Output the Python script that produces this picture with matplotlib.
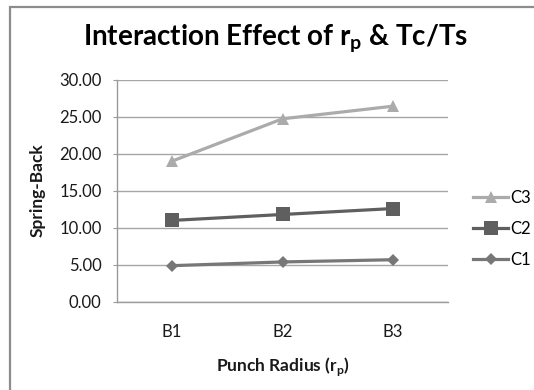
import matplotlib
matplotlib.use("Agg")
import matplotlib.pyplot as plt
from matplotlib.patches import Rectangle

# ---- data ----
categories = ["B1", "B2", "B3"]
c1 = [4.9, 5.4, 5.7]
c2 = [11.0, 11.8, 12.6]
c3 = [19.0, 24.7, 26.4]
series_names = ["C1", "C2", "C3"]
yticks = [0, 5, 10, 15, 20, 25, 30]

plt.rcParams['font.family'] = ['Lato', 'DejaVu Sans']
plt.rcParams['mathtext.fontset'] = 'custom'
plt.rcParams['mathtext.rm'] = 'Lato'
plt.rcParams['mathtext.bf'] = 'Lato:bold'

W, H = 534, 390
fig = plt.figure(figsize=(W / 100, H / 100), dpi=100)
fig.patch.set_facecolor('white')

# outer chart border (left/top visible)
top = 1 - 6.5 / H
fig.patches.append(Rectangle((9.5 / W, -0.1), 1.2, top + 0.1,
                             transform=fig.transFigure, fill=False,
                             edgecolor='#8c8c8c', linewidth=1.6))

ax = fig.add_axes([117 / W, 1 - 302 / H, 331 / W, (302 - 79.5) / H])
x = list(range(len(categories)))

styles = {
    "C1": dict(color='#777777', marker='D', markersize=5.8),
    "C2": dict(color='#5f5f5f', marker='s', markersize=9.6),
    "C3": dict(color='#ababab', marker='^', markersize=9.2),
}
lines = {}
for name, vals in zip(series_names, [c1, c2, c3]):
    st = styles[name]
    ln, = ax.plot(x, vals, color=st['color'], marker=st['marker'],
                  markersize=st['markersize'], linewidth=2.3,
                  markeredgewidth=0, label=name, zorder=3, clip_on=False)
    lines[name] = ln

ax.set_xlim(-0.5, len(categories) - 0.5)
ax.set_ylim(0, 30)
ax.set_yticks(yticks)
ax.set_yticklabels([f"{v:.2f}" for v in yticks])
ax.set_xticks(x)
ax.set_xticklabels(categories)

ax.grid(axis='y', color='#a6a6a6', linewidth=1.0)
ax.set_axisbelow(True)
for s in ['top', 'right']:
    ax.spines[s].set_visible(False)
for s in ['left', 'bottom']:
    ax.spines[s].set_color('#9a9a9a')
    ax.spines[s].set_linewidth(1.0)
ax.tick_params(axis='y', length=3, color='#9a9a9a', pad=8, labelsize=12,
               labelcolor='#1a1a1a')
ax.tick_params(axis='x', length=0, pad=16, labelsize=12, labelcolor='#1a1a1a')

# title and axis labels
fig.text(275.5 / W, 1 - 45 / H, r'Interaction Effect of r$_{\mathregular{p}}$ & Tc/Ts',
         ha='center', va='baseline', fontsize=20, fontweight='bold', color='black')
fig.text(283 / W, 1 - 371.5 / H, r'Punch Radius (r$_{\mathbf{p}}$)',
         ha='center', va='baseline', fontsize=12.5, fontweight='bold', color='#1a1a1a')
fig.text(38 / W, 1 - 190 / H, 'Spring-Back', rotation=90,
         ha='center', va='center', fontsize=12.5, fontweight='bold', color='#1a1a1a')

handles = [lines["C3"], lines["C2"], lines["C1"]]
fig.legend(handles, [h.get_label() for h in handles],
           loc='upper left', bbox_to_anchor=(473 / W, 1 - 190 / H),
           bbox_transform=fig.transFigure, frameon=False, fontsize=12,
           handlelength=2.1, handletextpad=0.15, labelspacing=0.9,
           borderpad=0, borderaxespad=0, numpoints=1)

fig.savefig('out.png', dpi=100)
